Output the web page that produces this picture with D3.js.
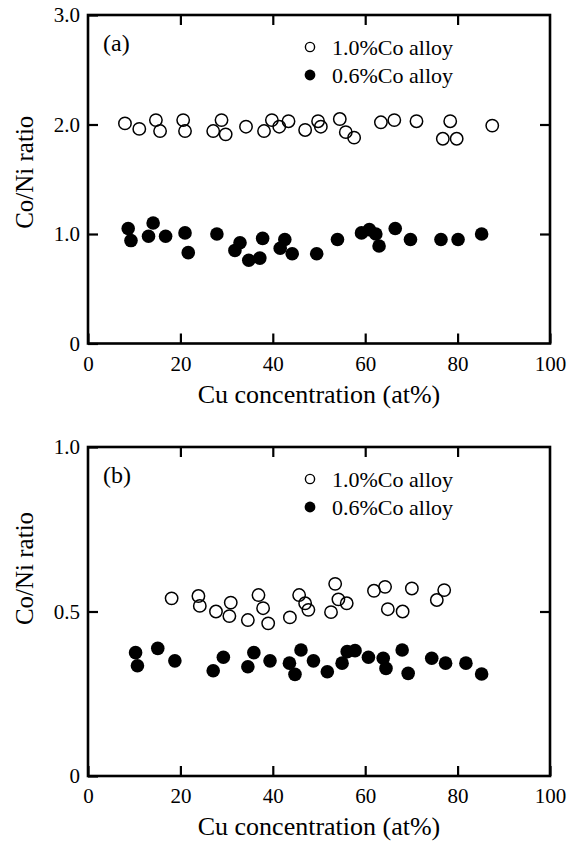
<!DOCTYPE html>
<html>
<head>
<meta charset="utf-8">
<script src="https://cdn.jsdelivr.net/npm/d3@7"></script>
<style>
  body { margin: 0; background: #fff; }
  svg { display: block; font-family: 'Liberation Serif', 'Times New Roman', serif; }
  .axis { font-family: 'Liberation Serif', 'Times New Roman', serif; }
  .axis text { font-size: 21px; fill: #000; }
  .axis line { stroke: #000; stroke-width: 2.2; }
  .axis path { display: none; }
</style>
</head>
<body>
<svg width="568" height="841"></svg>
<script>
// legend names
const seriesNames = ['1.0%Co alloy', '0.6%Co alloy'];

// x ticks, same for both panels
const xTicks = [0, 20, 40, 60, 80, 100];
const yTicksA = [0, 1, 2, 3];
const yTicksB = [0, 0.5, 1];

// panel (a) : 1.0%Co
const a10Cu = [8.0, 11.1, 14.7, 15.6, 20.6, 21.0, 27.1, 28.9, 29.8, 34.2, 38.1, 39.8, 41.4, 43.4, 47.0, 49.8, 50.4, 54.5, 55.8, 57.6, 63.4, 66.3, 71.1, 76.8, 78.4, 79.8, 87.5];
const a10Ratio = [2.01, 1.96, 2.04, 1.94, 2.04, 1.94, 1.94, 2.04, 1.91, 1.98, 1.94, 2.04, 1.98, 2.03, 1.95, 2.03, 1.98, 2.05, 1.93, 1.88, 2.02, 2.04, 2.03, 1.87, 2.03, 1.87, 1.99];
// panel (a) : 0.6%Co
const a06Cu = [8.7, 9.3, 13.1, 14.1, 16.8, 21.0, 21.7, 27.9, 31.8, 32.9, 34.8, 37.2, 37.8, 41.6, 42.6, 44.2, 49.5, 54.0, 59.2, 60.9, 62.3, 63.0, 66.5, 69.8, 76.4, 80.1, 85.2];
const a06Ratio = [1.05, 0.94, 0.98, 1.10, 0.98, 1.01, 0.83, 1.00, 0.85, 0.92, 0.76, 0.78, 0.96, 0.87, 0.95, 0.82, 0.82, 0.95, 1.01, 1.04, 1.00, 0.89, 1.05, 0.95, 0.95, 0.95, 1.00];

// panel (b) : 1.0%Co
const b10Cu = [18.1, 23.9, 24.2, 27.7, 30.6, 30.9, 34.6, 36.9, 37.9, 39.0, 43.7, 45.7, 47.0, 47.7, 52.6, 53.5, 54.2, 56.0, 61.9, 64.3, 64.9, 68.1, 70.1, 75.5, 77.1];
const b10Ratio = [0.540, 0.547, 0.517, 0.500, 0.486, 0.527, 0.474, 0.550, 0.510, 0.464, 0.482, 0.550, 0.525, 0.505, 0.498, 0.584, 0.537, 0.525, 0.563, 0.575, 0.507, 0.500, 0.570, 0.535, 0.565];
// panel (b) : 0.6%Co
const b06Cu = [10.3, 10.7, 15.1, 18.8, 27.1, 29.3, 34.6, 35.9, 39.4, 43.6, 44.8, 46.1, 48.8, 51.8, 55.0, 56.1, 57.8, 60.7, 63.9, 64.5, 68.0, 69.3, 74.4, 77.4, 81.8, 85.2];
const b06Ratio = [0.375, 0.335, 0.388, 0.350, 0.320, 0.361, 0.332, 0.375, 0.350, 0.343, 0.309, 0.383, 0.350, 0.317, 0.343, 0.378, 0.381, 0.361, 0.358, 0.327, 0.383, 0.312, 0.358, 0.343, 0.343, 0.310];

const svg = d3.select('svg');

const left = 88, right = 550;

function drawPanel(top, bottom, yMax, yTicks, openX, openY, fillX, fillY, tag, yTicksRight, yLabelShift) {
  const g = svg.append('g');

  const x = d3.scaleLinear().domain([0, 100]).range([left, right]);
  const y = d3.scaleLinear().domain([0, yMax]).range([bottom, top]);

  const fmtY = (d) => (d === 0 ? '0' : d.toFixed(1));

  // 底部 x 軸 (刻度朝內)
  g.append('g')
    .attr('class', 'axis')
    .attr('transform', `translate(0,${bottom})`)
    .call(d3.axisBottom(x).tickValues(xTicks).tickSize(-10).tickPadding(12).tickFormat(d3.format('d')))
    .selectAll('text')
    .attr('dy', '0.72em');

  // 頂部刻度
  g.append('g')
    .attr('class', 'axis')
    .attr('transform', `translate(0,${top})`)
    .call(d3.axisTop(x).tickValues(xTicks.slice(1, -1)).tickSize(-10).tickFormat(''));

  // 左 y 軸
  g.append('g')
    .attr('class', 'axis')
    .attr('transform', `translate(${left},0)`)
    .call(d3.axisLeft(y).tickValues(yTicks).tickSize(-10).tickPadding(8).tickFormat(fmtY));

  // 右側刻度
  g.append('g')
    .attr('class', 'axis')
    .attr('transform', `translate(${right},0)`)
    .call(d3.axisRight(y).tickValues(yTicksRight).tickSize(-10).tickFormat(''));

  // 外框
  g.append('rect')
    .attr('x', left)
    .attr('y', top)
    .attr('width', right - left)
    .attr('height', bottom - top)
    .attr('fill', 'none')
    .attr('stroke', '#000')
    .attr('stroke-width', 2.6);

  // 0.6%Co (實心)
  g.selectAll('circle.fill')
    .data(fillX)
    .enter()
    .append('circle')
    .attr('class', 'fill')
    .attr('cx', (d) => x(d))
    .attr('cy', (d, i) => y(fillY[i]))
    .attr('r', 6.8)
    .attr('fill', '#000');

  // 1.0%Co (空心)
  g.selectAll('circle.open')
    .data(openX)
    .enter()
    .append('circle')
    .attr('class', 'open')
    .attr('cx', (d) => x(d))
    .attr('cy', (d, i) => y(openY[i]))
    .attr('r', 6.2)
    .attr('fill', 'none')
    .attr('stroke', '#000')
    .attr('stroke-width', 1.5);

  // (a) / (b)
  g.append('text')
    .attr('x', 103)
    .attr('y', top + 36)
    .attr('font-size', 24)
    .text(tag);

  // 圖例
  const lg = g.append('g').attr('transform', `translate(310,${top + 32})`);
  seriesNames.forEach((name, i) => {
    lg.append('circle')
      .attr('cx', 0)
      .attr('cy', i * 28)
      .attr('r', i === 0 ? 4.6 : 5.4)
      .attr('fill', i === 0 ? 'none' : '#000')
      .attr('stroke', '#000')
      .attr('stroke-width', i === 0 ? 1.4 : 0);
    lg.append('text')
      .attr('x', 22)
      .attr('y', i * 28 + 7.5)
      .attr('font-size', 22)
      .text(name);
  });

  // 軸標題
  g.append('text')
    .attr('x', (left + right) / 2)
    .attr('y', bottom + 59)
    .attr('text-anchor', 'middle')
    .attr('font-size', 26)
    .text('Cu concentration (at%)');

  g.append('text')
    .attr('transform', `translate(33,${(top + bottom) / 2 + yLabelShift}) rotate(-90)`)
    .attr('text-anchor', 'middle')
    .attr('font-size', 25)
    .text('Co/Ni ratio');
}

drawPanel(15, 343.5, 3, yTicksA, a10Cu, a10Ratio, a06Cu, a06Ratio, '(a)', [1, 2], -7);
drawPanel(447, 776, 1, yTicksB, b10Cu, b10Ratio, b06Cu, b06Ratio, '(b)', [0.5], -43);
</script>
</body>
</html>
